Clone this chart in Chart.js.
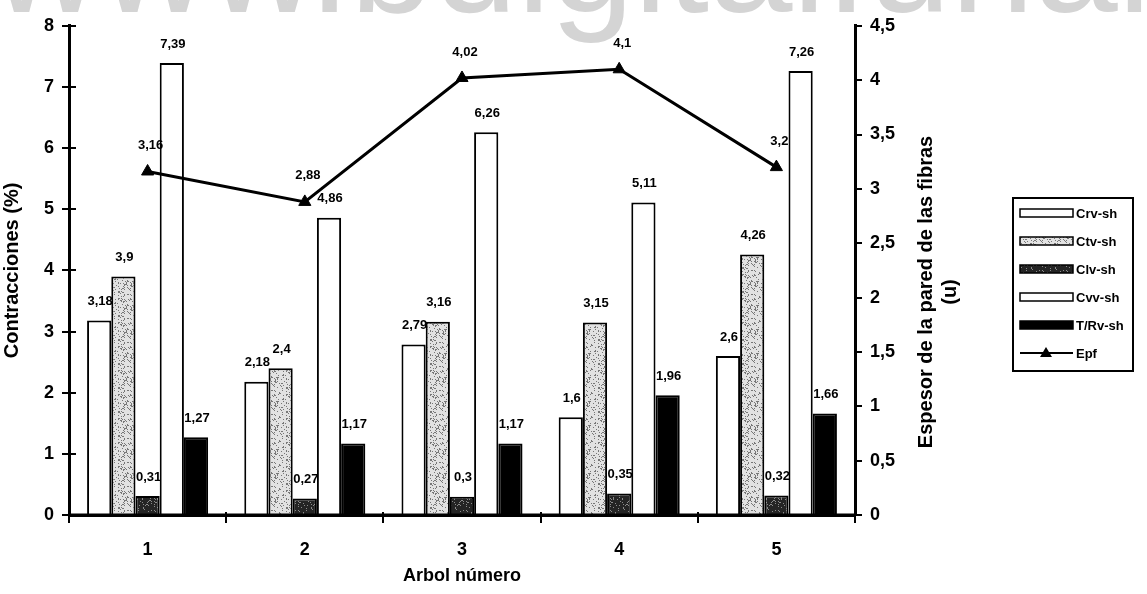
<!DOCTYPE html>
<html>
<head>
<meta charset="utf-8">
<script src="https://cdn.jsdelivr.net/npm/chart.js@4"></script>
<style>
  body { margin: 0; background: #fff; }
  #wrap { width: 1147px; height: 594px; position: relative; }
</style>
</head>
<body>
<div id="wrap"><canvas id="grafico"></canvas></div>
<script>
// Datos
const categorias = ['1', '2', '3', '4', '5'];
const crvSh = [3.18, 2.18, 2.79, 1.6, 2.6];
const ctvSh = [3.9, 2.4, 3.16, 3.15, 4.26];
const clvSh = [0.31, 0.27, 0.3, 0.35, 0.32];
const cvvSh = [7.39, 4.86, 6.26, 5.11, 7.26];
const trvSh = [1.27, 1.17, 1.17, 1.96, 1.66];
const epf = [3.16, 2.88, 4.02, 4.1, 3.2];
const ticksIzq = [0, 1, 2, 3, 4, 5, 6, 7, 8];
const ticksDer = [0, 0.5, 1, 1.5, 2, 2.5, 3, 3.5, 4, 4.5];

const FUENTE = '"Liberation Sans", Arial, sans-serif';
const coma = v => String(v).replace('.', ',');

// textura punteada para las barras grises
function punteado(base, punto, n) {
    const c = document.createElement('canvas');
    c.width = 24; c.height = 24;
    const g = c.getContext('2d');
    g.fillStyle = base;
    g.fillRect(0, 0, 24, 24);
    g.fillStyle = punto;
    const h = k => { const s = Math.sin(k * 12.9898) * 43758.5453; return s - Math.floor(s); };
    for (let i = 0; i < n; i++) {
        g.fillRect(Math.floor(h(i + 1) * 24), Math.floor(h(i + 101) * 24), 1, 1);
    }
    return document.createElement('canvas').getContext('2d').createPattern(c, 'repeat');
}
const grisClaro = punteado('#e2e2e2', '#777777', 110);
const grisOscuro = punteado('#242424', '#8a8a8a', 60);

// Marca de agua arriba
const marcaAgua = {
    id: 'marcaAgua',
    beforeDraw(chart) {
        const ctx = chart.ctx;
        ctx.save();
        ctx.fillStyle = '#d4d4d4';
        ctx.font = '150px ' + FUENTE;
        ctx.textBaseline = 'alphabetic';
        ctx.fillText('www.bdigital.unal.edu.co', -8, 12);
        ctx.restore();
    }
};

// Etiquetas de datos (se dibujan con cada serie)
const etiquetas = {
    id: 'etiquetas',
    afterDatasetDraw(chart, args) {
        const ctx = chart.ctx;
        const ds = chart.data.datasets[args.index];
        const meta = args.meta;
        ctx.save();
        ctx.fillStyle = '#000';
        ctx.font = 'bold 13px ' + FUENTE;
        ctx.textAlign = 'center';
        ctx.textBaseline = 'middle';
        meta.data.forEach((el, i) => {
            if (ds.type === 'line') {
                ctx.fillText(coma(ds.data[i]), el.x + 3, el.y - 26);
            } else {
                ctx.fillText(coma(ds.data[i]), el.x + 1, el.y - 19);
            }
        });
        ctx.restore();
    }
};

// Marcas de los ejes, título derecho y leyenda
const extras = {
    id: 'extras',
    afterDraw(chart) {
        const ctx = chart.ctx;
        const y = chart.scales.y, y1 = chart.scales.y1;
        const area = chart.chartArea;
        ctx.save();
        ctx.strokeStyle = '#000';

        // línea del eje x
        ctx.lineWidth = 3;
        ctx.beginPath();
        ctx.moveTo(area.left - 1, area.bottom); ctx.lineTo(area.right + 1, area.bottom);
        ctx.stroke();

        ctx.lineWidth = 2;
        ctx.beginPath();
        ticksIzq.forEach(v => {
            const p = Math.round(y.getPixelForValue(v));
            ctx.moveTo(area.left - 7, p); ctx.lineTo(area.left + 7, p);
        });
        ticksDer.forEach(v => {
            const p = Math.round(y1.getPixelForValue(v));
            ctx.moveTo(area.right, p); ctx.lineTo(area.right + 7, p);
        });
        const paso = (area.right - area.left) / categorias.length;
        for (let i = 0; i <= categorias.length; i++) {
            const p = Math.round(area.left + i * paso);
            ctx.moveTo(p, area.bottom - 3); ctx.lineTo(p, area.bottom + 8);
        }
        ctx.stroke();

        // título del eje derecho
        ctx.fillStyle = '#000';
        ctx.font = 'bold 20px ' + FUENTE;
        ctx.textAlign = 'center';
        ctx.textBaseline = 'middle';
        ctx.save();
        ctx.translate(926, 292);
        ctx.rotate(-Math.PI / 2);
        ctx.fillText('Espesor de la pared de las fibras', 0, 0);
        ctx.fillText('(u)', 0, 24);
        ctx.restore();

        // leyenda
        const lx = 1013, ly = 198, lw = 120, lh = 173;
        ctx.lineWidth = 2;
        ctx.strokeRect(lx, ly, lw, lh);
        ctx.font = 'bold 13px ' + FUENTE;
        ctx.textAlign = 'left';
        chart.data.datasets.forEach((ds, j) => {
            const cy = 213 + j * 28;
            if (ds.type === 'line') {
                ctx.lineWidth = 2;
                ctx.beginPath();
                ctx.moveTo(1020, cy); ctx.lineTo(1073, cy);
                ctx.stroke();
                ctx.beginPath();
                ctx.moveTo(1046, cy - 6); ctx.lineTo(1052, cy + 4); ctx.lineTo(1040, cy + 4);
                ctx.closePath();
                ctx.fill();
            } else {
                ctx.fillStyle = ds.backgroundColor;
                ctx.fillRect(1020, cy - 4, 53, 8);
                ctx.lineWidth = 1.5;
                ctx.strokeRect(1020, cy - 4, 53, 8);
            }
            ctx.fillStyle = '#000';
            ctx.fillText(ds.label, 1076, cy + 1);
        });
        ctx.restore();
    }
};

const barra = (label, data, fondo) => ({
    type: 'bar',
    label: label,
    data: data,
    backgroundColor: fondo,
    borderColor: '#000',
    borderWidth: 2,
    yAxisID: 'y',
    order: 1,
    categoryPercentage: 0.77,
    barPercentage: 1
});

const ctxG = document.getElementById('grafico').getContext('2d');
const grafico = new Chart(ctxG, {
    data: {
        labels: categorias,
        datasets: [
            barra('Crv-sh', crvSh, '#ffffff'),
            barra('Ctv-sh', ctvSh, grisClaro),
            barra('Clv-sh', clvSh, grisOscuro),
            barra('Cvv-sh', cvvSh, '#ffffff'),
            barra('T/Rv-sh', trvSh, '#000000'),
            {
                type: 'line',
                label: 'Epf',
                data: epf,
                yAxisID: 'y1',
                borderColor: '#000',
                borderWidth: 3,
                backgroundColor: '#000',
                pointStyle: 'triangle',
                pointRadius: 7,
                pointBorderWidth: 1,
                tension: 0,
                order: 0
            }
        ]
    },
    options: {
        responsive: true,
        maintainAspectRatio: false,
        animation: false,
        layout: { padding: { top: 18, left: 0, right: 0, bottom: 0 } },
        plugins: {
            legend: { display: false },
            tooltip: { enabled: false }
        },
        scales: {
            x: {
                offset: true,
                grid: { display: false, drawTicks: false },
                border: { color: '#000', width: 3 },
                ticks: { color: '#000', padding: 24, font: { family: FUENTE, size: 18, weight: 'bold' } },
                title: {
                    display: true, text: 'Arbol número', color: '#000',
                    font: { family: FUENTE, size: 18, weight: 'bold' },
                    padding: { top: 0, bottom: 7 }
                },
                afterFit: s => { s.height = 79; }
            },
            y: {
                position: 'left',
                min: 0, max: 8,
                grid: { display: false, drawTicks: false },
                border: { color: '#000', width: 3 },
                ticks: { stepSize: 1, color: '#000', padding: 15, font: { family: FUENTE, size: 18, weight: 'bold' } },
                title: {
                    display: true, text: 'Contracciones (%)', color: '#000',
                    font: { family: FUENTE, size: 20, weight: 'bold' },
                    padding: { top: 0, bottom: 0 }
                },
                afterFit: s => { s.width = 69; }
            },
            y1: {
                position: 'right',
                min: 0, max: 4.5,
                grid: { display: false, drawTicks: false },
                border: { color: '#000', width: 3 },
                ticks: {
                    stepSize: 0.5, color: '#000', padding: 15,
                    font: { family: FUENTE, size: 18, weight: 'bold' },
                    callback: v => coma(v)
                },
                afterFit: s => { s.width = 292; }
            }
        }
    },
    plugins: [marcaAgua, etiquetas, extras]
});
</script>
</body>
</html>
